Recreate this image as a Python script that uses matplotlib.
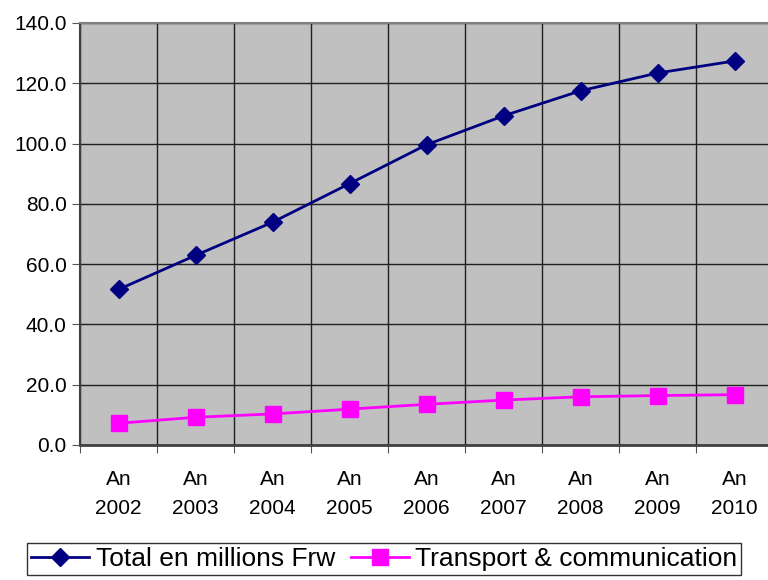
import matplotlib.pyplot as plt

plt.rcParams['font.family'] = ['Liberation Sans', 'DejaVu Sans']

years = ['An\n2002', 'An\n2003', 'An\n2004', 'An\n2005', 'An\n2006',
         'An\n2007', 'An\n2008', 'An\n2009', 'An\n2010']
total = [51.6, 62.9, 73.9, 86.7, 99.6, 109.2, 117.5, 123.4, 127.4]
transport = [7.2, 9.2, 10.3, 11.9, 13.5, 14.9, 16.0, 16.4, 16.7]

fig = plt.figure(figsize=(7.68, 5.80), dpi=100)
ax = fig.add_axes([80 / 768, 1 - 445 / 580, 693 / 768, 422 / 580])
ax.set_facecolor('#C0C0C0')

x = range(len(years))
ax.plot(x, total, color='#000080', lw=2, marker='D', ms=9,
        label='Total en millions Frw', clip_on=False, zorder=3)
ax.plot(x, transport, color='#FF00FF', lw=2, marker='s', ms=11,
        label='Transport & communication', clip_on=False, zorder=3)

ax.set_xlim(-0.5, len(years) - 0.5)
ax.set_ylim(0, 140)
ax.set_yticks(range(0, 141, 20))
ax.set_yticklabels(['%.1f' % v for v in range(0, 141, 20)])
ax.set_xticks([i - 0.5 for i in range(len(years) + 1)], minor=False)
ax.set_xticklabels([])
ax.set_xticks(list(x), minor=True)
ax.set_xticklabels(years, minor=True)
ax.tick_params(axis='x', which='minor', length=0, pad=18, labelsize=15)
ax.tick_params(axis='x', which='major', length=6, color='#555555')
ax.tick_params(axis='y', length=6, labelsize=15, color='#555555')
for lab in ax.get_xticklabels(minor=True):
    lab.set_linespacing(1.7)

ax.grid(True, which='major', color='#202020', lw=1)
ax.set_axisbelow(True)
for s in ['top', 'right', 'bottom', 'left']:
    ax.spines[s].set_color('#808080')
    ax.spines[s].set_linewidth(1.5)
ax.spines['bottom'].set_color('#404040')
ax.spines['bottom'].set_linewidth(2)
ax.spines['left'].set_color('#404040')

fig.legend(loc='upper left', bbox_to_anchor=(27 / 768, 1 - 543 / 580),
           ncol=2, fontsize=19, frameon=True, fancybox=False,
           edgecolor='black', handlelength=2.2, handletextpad=0.25,
           columnspacing=0.6, borderpad=0.15, borderaxespad=0)

fig.savefig('out.png', dpi=100)
